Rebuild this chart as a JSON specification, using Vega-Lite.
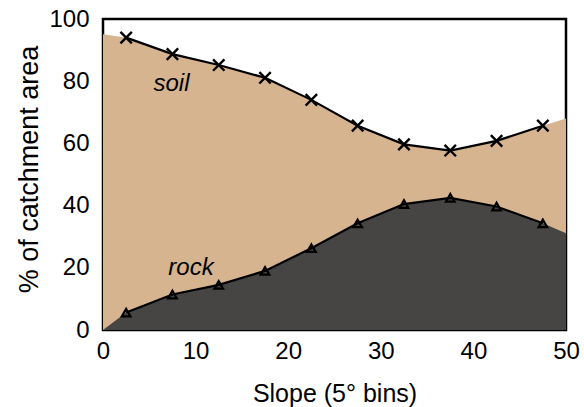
{
  "$schema": "https://vega.github.io/schema/vega-lite/v6.json",
  "autosize": "none",
  "width": 463,
  "height": 311,
  "padding": {"left": 103, "top": 19, "right": 18, "bottom": 77},
  "background": "white",
  "config": {
    "view": {"stroke": "black", "strokeWidth": 2.5},
    "font": "Liberation Sans",
    "axis": {"domain": false, "ticks": false, "grid": false, "labelFlush": false, "labelFont": "Liberation Sans", "titleFont": "Liberation Sans", "labelFontSize": 24, "titleFontSize": 25, "titleFontWeight": "normal", "labelColor": "black", "titleColor": "black"}
  },
  "datasets": {
    "area": [
      {"x": 0, "soil": 95.1, "rock": 0},
      {"x": 2.5, "soil": 94.0, "rock": 5.6},
      {"x": 7.5, "soil": 88.7, "rock": 11.4},
      {"x": 12.5, "soil": 85.2, "rock": 14.5},
      {"x": 17.5, "soil": 81.1, "rock": 19.0},
      {"x": 22.5, "soil": 74.0, "rock": 26.3},
      {"x": 27.5, "soil": 65.7, "rock": 34.3},
      {"x": 32.5, "soil": 59.7, "rock": 40.5},
      {"x": 37.5, "soil": 57.7, "rock": 42.5},
      {"x": 42.5, "soil": 60.8, "rock": 39.7},
      {"x": 47.5, "soil": 65.7, "rock": 34.3},
      {"x": 50, "soil": 68.0, "rock": 31.1}
    ],
    "points": [
      {"x": 2.5, "soil": 94.0, "rock": 5.6},
      {"x": 7.5, "soil": 88.7, "rock": 11.4},
      {"x": 12.5, "soil": 85.2, "rock": 14.5},
      {"x": 17.5, "soil": 81.1, "rock": 19.0},
      {"x": 22.5, "soil": 74.0, "rock": 26.3},
      {"x": 27.5, "soil": 65.7, "rock": 34.3},
      {"x": 32.5, "soil": 59.7, "rock": 40.5},
      {"x": 37.5, "soil": 57.7, "rock": 42.5},
      {"x": 42.5, "soil": 60.8, "rock": 39.7},
      {"x": 47.5, "soil": 65.7, "rock": 34.3}
    ],
    "labels": [
      {"x": 7.4, "y": 79, "text": "soil"},
      {"x": 9.5, "y": 20, "text": "rock"}
    ]
  },
  "encoding": {
    "x": {"field": "x", "type": "quantitative", "scale": {"domain": [0, 50], "nice": false, "zero": false}, "axis": {"values": [0, 10, 20, 30, 40, 50], "title": "Slope (5° bins)", "labelPadding": 9, "titleY": 71, "titleBaseline": "alphabetic", "titleAnchor": "middle"}}
  },
  "layer": [
    {
      "data": {"name": "area"},
      "mark": {"type": "area", "color": "#D5B48F", "opacity": 1},
      "encoding": {
        "y": {"field": "soil", "type": "quantitative", "scale": {"domain": [0, 100], "nice": false}, "axis": {"values": [0, 20, 40, 60, 80, 100], "title": "% of catchment area", "labelPadding": 14, "titleFontSize": 27, "titleAngle": 270, "titleX": -66, "titleY": 150, "titleBaseline": "alphabetic", "titleAlign": "center"}},
        "y2": {"datum": 0}
      }
    },
    {
      "data": {"name": "area"},
      "mark": {"type": "area", "color": "#474543", "opacity": 1},
      "encoding": {
        "y": {"field": "rock", "type": "quantitative"},
        "y2": {"datum": 0}
      }
    },
    {
      "data": {"name": "points"},
      "mark": {"type": "line", "color": "black", "strokeWidth": 2.2},
      "encoding": {"y": {"field": "soil", "type": "quantitative"}}
    },
    {
      "data": {"name": "points"},
      "mark": {"type": "line", "color": "black", "strokeWidth": 2.2},
      "encoding": {"y": {"field": "rock", "type": "quantitative"}}
    },
    {
      "data": {"name": "points"},
      "mark": {"type": "point", "shape": "M-1,-1L1,1M1,-1L-1,1", "size": 130, "filled": false, "stroke": "black", "strokeWidth": 2.4, "opacity": 1},
      "encoding": {"y": {"field": "soil", "type": "quantitative"}}
    },
    {
      "data": {"name": "points"},
      "mark": {"type": "point", "shape": "triangle-up", "size": 75, "filled": false, "stroke": "black", "strokeWidth": 2.2, "opacity": 1},
      "encoding": {"y": {"field": "rock", "type": "quantitative"}}
    },
    {
      "data": {"name": "labels"},
      "mark": {"type": "text", "fontSize": 24, "fontStyle": "italic", "color": "black", "font": "Liberation Sans"},
      "encoding": {
        "y": {"field": "y", "type": "quantitative"},
        "text": {"field": "text"}
      }
    }
  ]
}
